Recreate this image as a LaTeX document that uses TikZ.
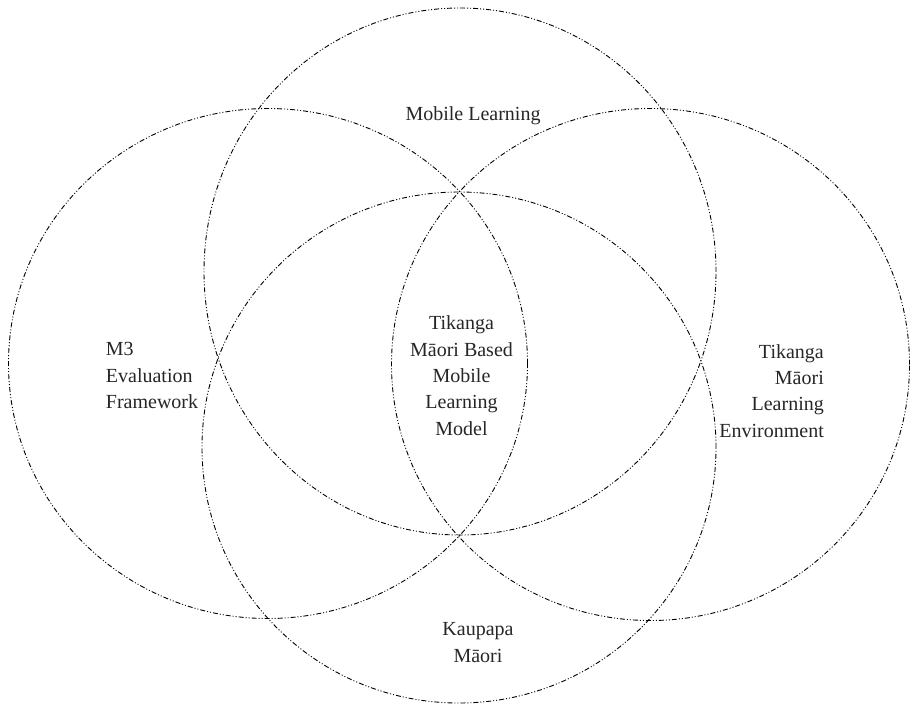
\documentclass[tikz,border=0pt]{standalone}
\usepackage{fontspec}
\setmainfont{Liberation Serif}
\usetikzlibrary{shapes.geometric}
\begin{document}
\begin{tikzpicture}[x=1pt,y=-1pt,
  ring/.style={ellipse, draw=black, line width=0.9pt, inner sep=0pt,
    dash pattern=on 5pt off 2pt on 1pt off 2pt on 1pt off 2pt},
  label/.style={inner sep=0pt, font=\fontsize{20}{26.3}\selectfont, text=black!85}]
  \useasboundingbox (0,0) rectangle (912,705);
  % the four overlapping domains
  \node[ring, minimum width=512pt, minimum height=527pt] (mobile) at (460,271.5) {};
  \node[ring, minimum width=519pt, minimum height=510pt] (m3) at (268,363.5) {};
  \node[ring, minimum width=518pt, minimum height=512pt] (tikanga) at (650.5,364.5) {};
  \node[ring, minimum width=514pt, minimum height=511pt] (kaupapa) at (459,447.5) {};
  % domain labels (base anchor sits on the last line)
  \node[label, anchor=base] (tMobile) at (473,120.3) {Mobile Learning};
  \node[label, anchor=base west, align=left] (tM3) at (105.7,408.5)
    {M3\\Evaluation\\Framework};
  \node[label, anchor=base east, align=right] (tTik) at (824,437)
    {Tikanga\\Māori\\Learning\\Environment};
  \node[label, anchor=base, align=center] (tKau) at (478,662)
    {Kaupapa\\Māori};
  \node[label, anchor=base, align=center] (tModel) at (461.5,435)
    {Tikanga\\Māori Based\\Mobile\\Learning\\Model};
\end{tikzpicture}
\end{document}
